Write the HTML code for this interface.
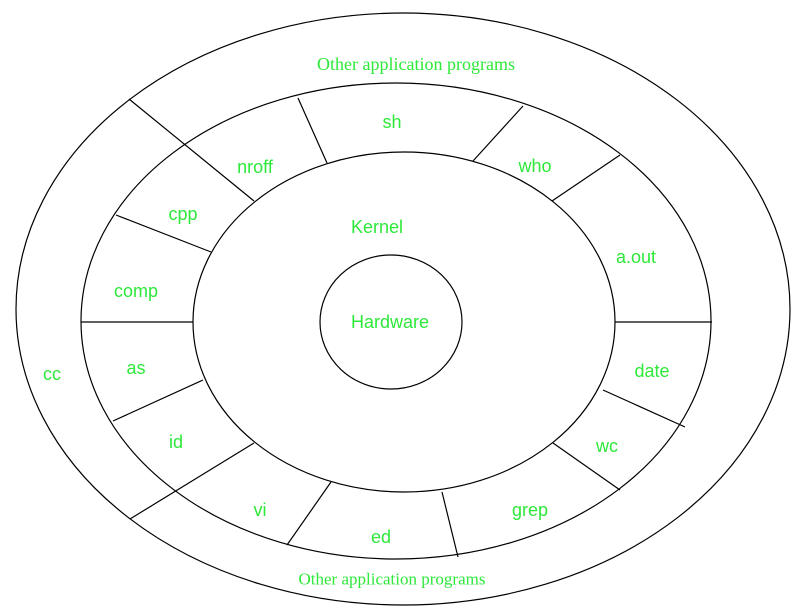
<!DOCTYPE html>
<html><head><style>
html,body{margin:0;padding:0;background:#fff;}
svg{display:block;}
.s{font-family:"Liberation Sans",sans-serif;font-size:18px;fill:#2ee83a;text-anchor:middle;dominant-baseline:central;}
.r{font-family:"Liberation Serif",serif;font-size:18px;fill:#2ee83a;text-anchor:middle;dominant-baseline:central;}
</style></head><body>
<svg width="810" height="616" viewBox="0 0 810 616" xmlns="http://www.w3.org/2000/svg">
<g fill="none" stroke="#000" stroke-width="1.2">
<ellipse cx="403" cy="309" rx="387" ry="296"/>
<ellipse cx="396" cy="321" rx="315" ry="238"/>
<ellipse cx="404" cy="322" rx="211" ry="170"/>
<ellipse cx="391" cy="322" rx="71" ry="67"/>
<line x1="129" y1="99" x2="254" y2="201"/>
<line x1="298" y1="98" x2="327" y2="163"/>
<line x1="523" y1="106" x2="473" y2="161"/>
<line x1="620" y1="155" x2="552" y2="201"/>
<line x1="615" y1="322" x2="712" y2="322"/>
<line x1="603" y1="390" x2="685" y2="427"/>
<line x1="553" y1="443" x2="620" y2="490"/>
<line x1="442" y1="492" x2="458" y2="557"/>
<line x1="331" y1="482" x2="287" y2="545"/>
<line x1="254" y1="443" x2="130" y2="519"/>
<line x1="203" y1="380" x2="113" y2="421"/>
<line x1="81" y1="322" x2="193" y2="322"/>
<line x1="116" y1="215" x2="211" y2="252"/>
</g>
<text class="r" x="416" y="64">Other application programs</text>
<text class="r" x="392" y="579" style="font-size:17px">Other application programs</text>
<text class="s" x="392" y="122">sh</text>
<text class="s" x="255" y="167">nroff</text>
<text class="s" x="535" y="166">who</text>
<text class="s" x="183" y="214">cpp</text>
<text class="s" x="377" y="227">Kernel</text>
<text class="s" x="636" y="257">a.out</text>
<text class="s" x="136" y="291">comp</text>
<text class="s" x="390" y="322">Hardware</text>
<text class="s" x="136" y="368">as</text>
<text class="s" x="52" y="374">cc</text>
<text class="s" x="652" y="371">date</text>
<text class="s" x="176" y="442">id</text>
<text class="s" x="607" y="446">wc</text>
<text class="s" x="260" y="510">vi</text>
<text class="s" x="530" y="510">grep</text>
<text class="s" x="381" y="537">ed</text>
</svg>
</body></html>
